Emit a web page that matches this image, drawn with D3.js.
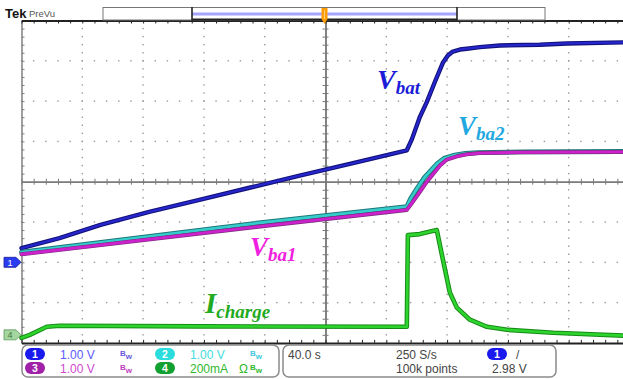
<!DOCTYPE html>
<meta charset="utf-8">
<style>
body { margin: 0; background: #fff; }
svg { display: block; font-family: "Liberation Sans", Arial, sans-serif; }
.trace { fill: none; stroke-linejoin: round; stroke-linecap: round; }
.lbl { font-family: "Liberation Serif", "Times New Roman", serif; font-weight: bold; font-style: italic; }
</style>
<svg width="623" height="379"></svg>
<script src="https://d3js.org/d3.v7.min.js"></script>
<script>

// time in s (40 s/div, 10 div), values in V or mA
var vbatT = [0, 25, 52, 84, 117, 150, 183, 216, 253.5, 256.8, 262, 266.7, 272, 277.2, 280.5, 283.8, 288.4, 293, 301.5, 314.7, 341, 358.8, 400];
var vbatV = [0.35, 0.60, 0.93, 1.25, 1.55, 1.85, 2.15, 2.44, 2.78, 3.05, 3.60, 3.98, 4.48, 4.95, 5.13, 5.23, 5.28, 5.30, 5.34, 5.38, 5.40, 5.43, 5.46];

var vba2T = [0, 150, 253.5, 256, 260.5, 265, 273.5, 278, 285, 292, 300, 330, 400];
var vba2V = [0.25, 0.95, 1.38, 1.58, 1.85, 2.10, 2.45, 2.58, 2.66, 2.70, 2.72, 2.74, 2.75];

var vba1T = [0, 150, 253.5, 257.4, 262.1, 266.7, 275.3, 279.9, 286.5, 293, 301.5, 327.8, 400];
var vba1V = [0.20, 0.86, 1.30, 1.50, 1.75, 2.00, 2.40, 2.55, 2.63, 2.68, 2.71, 2.73, 2.74];

var ichT = [0, 5.5, 16.6, 25.2, 117, 253.5, 254.2, 262, 273.2, 277.2, 281.8, 286.4, 295, 306.2, 319.4, 349.7, 400];
var ichMA = [-15, 0, 40, 45, 42, 40, 495, 500, 520, 375, 210, 135, 75, 40, 25, 10, -5];

// scope settings
var chPos = {ch1: -2, ch4: -3.8};   // divisions
var chScale = {ch1: 1, ch4: 200};   // per div

var svg = d3.select("svg");
var plotLeft = 21.5, plotTop = 20.5, plotBottom = 342.9;

var x = d3.scaleLinear().domain([0, 400]).range([plotLeft, plotLeft + 608]);
var yDiv = d3.scaleLinear().domain([-4, 4]).range([plotBottom, plotTop]);
var yV = d3.scaleLinear().domain([0, chScale.ch1]).range([yDiv(chPos.ch1), yDiv(chPos.ch1 + 1)]);
var yI = d3.scaleLinear().domain([0, chScale.ch4]).range([yDiv(chPos.ch4), yDiv(chPos.ch4 + 1)]);

// dotted graticule
var grid = svg.append("g").attr("fill", "#9a9a9a");
var minorX = d3.range(0, 401, 8), minorY = d3.range(-20, 21).map(function(d) { return d / 5; });
[40, 80, 120, 160, 240, 280, 320, 360].forEach(function(t) {
  minorY.forEach(function(v) {
    grid.append("rect").attr("x", x(t) - 0.7).attr("y", yDiv(v) - 0.7).attr("width", 1.4).attr("height", 1.4);
  });
});
[-3, -2, -1, 1, 2, 3].forEach(function(v) {
  minorX.forEach(function(t) {
    grid.append("rect").attr("x", x(t) - 0.7).attr("y", yDiv(v) - 0.7).attr("width", 1.4).attr("height", 1.4);
  });
});

function frame(g, color, w) {
  g.select(".domain").attr("stroke", color).attr("stroke-width", w);
  g.selectAll(".tick line").attr("stroke", color).attr("stroke-width", 1);
}
svg.append("g").attr("transform", "translate(0," + yDiv(0) + ")")
  .call(d3.axisBottom(x).tickValues(minorX).tickSize(3).tickSizeOuter(0).tickFormat("")).call(frame, "#7a7a7a", 1.5);
svg.append("g").attr("transform", "translate(0," + yDiv(0) + ")")
  .call(d3.axisTop(x).tickValues(minorX).tickSize(3).tickSizeOuter(0).tickFormat("")).call(frame, "#7a7a7a", 1.5);
svg.append("g").attr("transform", "translate(" + x(200) + ",0)")
  .call(d3.axisLeft(yDiv).tickValues(minorY).tickSize(3).tickSizeOuter(0).tickFormat("")).call(frame, "#7a7a7a", 1.5);
svg.append("g").attr("transform", "translate(" + x(200) + ",0)")
  .call(d3.axisRight(yDiv).tickValues(minorY).tickSize(3).tickSizeOuter(0).tickFormat("")).call(frame, "#7a7a7a", 1.5);
svg.append("g").attr("transform", "translate(" + x(0) + ",0)")
  .call(d3.axisRight(yDiv).tickValues(minorY).tickSize(3).tickSizeOuter(0).tickFormat("")).call(frame, "#808080", 1.5);
svg.append("g").attr("transform", "translate(0," + plotTop + ")")
  .call(d3.axisBottom(x).tickValues(minorX).tickSize(3).tickSizeOuter(0).tickFormat("")).call(frame, "#222", 2);
svg.append("g").attr("transform", "translate(0," + plotBottom + ")")
  .call(d3.axisTop(x).tickValues(minorX).tickSize(3).tickSizeOuter(0).tickFormat("")).call(frame, "#222", 2);

// traces
function trace(ts, vs, ys, under, core, wu, wc) {
  var pts = ts.map(function(t, i) { return [x(t), ys(vs[i])]; });
  var line = d3.line();
  svg.append("path").attr("class", "trace").attr("d", line(pts)).attr("stroke", under).attr("stroke-width", wu);
  svg.append("path").attr("class", "trace").attr("d", line(pts)).attr("stroke", core).attr("stroke-width", wc);
}
trace(ichT, ichMA, yI, "#168a16", "#2ed42e", 4.6, 2.6);
trace(vbatT, vbatV, yV, "#12127a", "#2626cc", 4.4, 2.2);
trace(vba2T, vba2V, yV, "#1d7878", "#35cccc", 4.8, 2.8);
trace(vba1T, vba1V, yV, "#7a2a7a", "#cc22cc", 4, 2.8);

// channel ground markers
function marker(cy, fill, stroke, s, tcol) {
  svg.append("path").attr("d", "M4," + (cy - 5) + "h12l5,5l-5,5h-12z")
    .attr("fill", fill).attr("stroke", stroke).attr("stroke-width", 0.8);
  svg.append("text").attr("x", 10).attr("y", cy + 3.5).attr("text-anchor", "middle")
    .attr("font-size", 9).attr("fill", tcol).text(s);
}
marker(yV(0), "#2a3cf0", "#1a1aa0", "1", "#fff");
marker(yI(0), "#a6d6a0", "#5a9a5a", "4", "#3a7a3a");

// trace labels
function label(px, py, big, sub, color, bigSize) {
  var t = svg.append("text").attr("class", "lbl").attr("x", px).attr("y", py).attr("fill", color);
  t.append("tspan").attr("font-size", bigSize).text(big);
  t.append("tspan").attr("font-size", 19).attr("dy", 5).text(sub);
}
label(377, 89, "V", "bat", "#1c1cd8", 28);
label(458, 135, "V", "ba2", "#22a8e0", 27);
label(250, 256, "V", "ba1", "#f020e0", 27);
label(205, 313, "I", "charge", "#22aa22", 29);

// top record view
svg.append("text").attr("x", 5).attr("y", 18).attr("font-size", 13).attr("font-weight", "bold").attr("fill", "#111").text("Tek");
svg.append("text").attr("x", 29).attr("y", 17).attr("font-size", 9.5).attr("fill", "#555").text("PreVu");
svg.append("rect").attr("x", 103).attr("y", 7.5).attr("width", 442).attr("height", 12.5).attr("fill", "#fff").attr("stroke", "#777");
svg.append("line").attr("x1", 192).attr("x2", 457).attr("y1", 14).attr("y2", 14).attr("stroke", "#a4a4ff").attr("stroke-width", 3);
svg.append("line").attr("x1", 192).attr("x2", 457).attr("y1", 19.5).attr("y2", 19.5).attr("stroke", "#222").attr("stroke-width", 2);
[192, 457].forEach(function(px) {
  svg.append("line").attr("x1", px).attr("x2", px).attr("y1", 7).attr("y2", 20.5).attr("stroke", "#222").attr("stroke-width", 1.6);
});
svg.append("path").attr("d", "M321.5,8h6v11l-3,5l-3,-5z").attr("fill", "#ff9a00");
svg.append("line").attr("x1", 324.5).attr("x2", 324.5).attr("y1", 10).attr("y2", 19).attr("stroke", "#ffd080").attr("stroke-width", 1);

// status bar
svg.append("rect").attr("x", 22).attr("y", 345).attr("width", 257).attr("height", 32).attr("rx", 6)
  .attr("fill", "#fff").attr("stroke", "#8a8a8a").attr("stroke-width", 1.5);
svg.append("rect").attr("x", 283).attr("y", 345).attr("width", 273).attr("height", 32).attr("rx", 6)
  .attr("fill", "#fff").attr("stroke", "#8a8a8a").attr("stroke-width", 1.5);

function badge(px, cy, s, color) {
  svg.append("rect").attr("x", px).attr("y", cy - 6).attr("width", 20).attr("height", 12).attr("rx", 6).attr("fill", color);
  svg.append("text").attr("x", px + 10).attr("y", cy + 4).attr("text-anchor", "middle")
    .attr("font-size", 10.5).attr("font-weight", "bold").attr("fill", "#fff").text(s);
}
function info(px, py, s, color) {
  svg.append("text").attr("x", px).attr("y", py).attr("font-size", 12).attr("fill", color).text(s);
}
function bw(px, py, color) {
  var t = svg.append("text").attr("x", px).attr("y", py - 3).attr("font-size", 8).attr("font-weight", "bold").attr("fill", color);
  t.append("tspan").text("B");
  t.append("tspan").attr("dy", 3).text("w");
}
var r1 = 354, r2 = 368;
badge(25, r1, "1", "#1a1aee"); info(60, r1 + 4.5, "1.00 V", "#5a5aff"); bw(120, r1 + 4.5, "#6a5ae0");
badge(155, r1, "2", "#2adcdc"); info(190, r1 + 4.5, "1.00 V", "#40dcdc"); bw(250, r1 + 4.5, "#40c8dc");
badge(25, r2, "3", "#a020a8"); info(60, r2 + 4.5, "1.00 V", "#d048d0"); bw(120, r2 + 4.5, "#c040c0");
badge(155, r2, "4", "#12a030"); info(190, r2 + 4.5, "200mA", "#30b830"); info(239, r2 + 4.5, "\u03a9", "#30b830"); bw(250, r2 + 4.5, "#30b830");

info(288, r1 + 4.5, "40.0 s", "#444");
info(396, r1 + 4.5, "250 S/s", "#444");
info(396, r2 + 4.5, "100k points", "#444");
badge(487, r1, "1", "#1a1aee");
info(516, r1 + 4.5, "/", "#444");
info(492, r2 + 4.5, "2.98 V", "#444");

</script>
